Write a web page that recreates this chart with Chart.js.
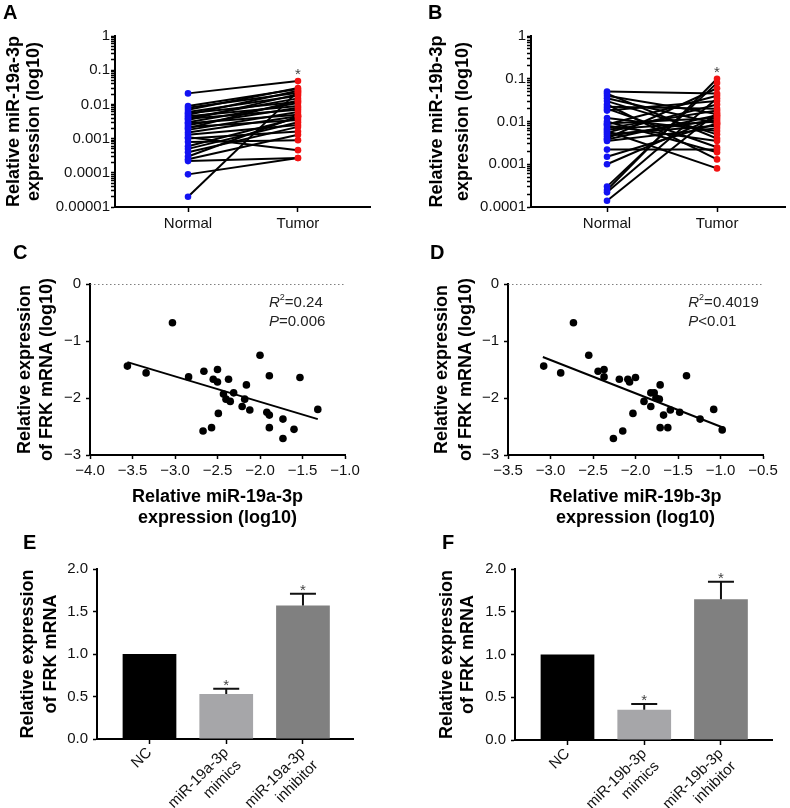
<!DOCTYPE html>
<html>
<head>
<meta charset="utf-8">
<script src="https://cdn.jsdelivr.net/npm/chart.js@4"></script>
<style>
  body { margin: 0; background: #fff; width: 790px; height: 808px; position: relative; overflow: hidden; font-family: 'Liberation Sans', Arial, sans-serif; }
  canvas { position: absolute; }
  .lbl { position: absolute; font-weight: bold; font-size: 20px; line-height: 1; color: #000; }
</style>
</head>
<body>
<canvas id="chartA" width="395" height="240" style="left:0;top:0"></canvas>
<canvas id="chartB" width="395" height="240" style="left:395px;top:0"></canvas>
<canvas id="chartC" width="395" height="300" style="left:0;top:240px"></canvas>
<canvas id="chartD" width="395" height="300" style="left:395px;top:240px"></canvas>
<canvas id="chartE" width="395" height="288" style="left:0;top:520px"></canvas>
<canvas id="chartF" width="395" height="288" style="left:395px;top:520px"></canvas>
<div class="lbl" style="left:3px;top:2px">A</div>
<div class="lbl" style="left:428px;top:2px">B</div>
<div class="lbl" style="left:13px;top:242px">C</div>
<div class="lbl" style="left:430px;top:242px">D</div>
<div class="lbl" style="left:23px;top:532px">E</div>
<div class="lbl" style="left:442px;top:532px">F</div>
<script>
// ---- data ----
const groups = ['Normal', 'Tumor'];

// A: paired miR-19a-3p expression
const normalA = [0.021, 0.009, 0.008, 0.007, 0.006, 0.0055, 0.005, 0.0045, 0.004, 0.0038,
  0.0035, 0.003, 0.0028, 0.0025, 0.0022, 0.002, 0.0018, 0.0015, 0.0013, 0.0011,
  0.001, 0.0008, 0.0006, 0.0005, 0.0004, 0.0003, 0.00025, 0.00022, 0.00009, 0.00002];
const tumorA = [0.048, 0.028, 0.022, 0.03, 0.018, 0.012, 0.025, 0.009, 0.015, 0.007,
  0.02, 0.011, 0.005, 0.008, 0.0035, 0.013, 0.006, 0.0045, 0.0025, 0.00046,
  0.0016, 0.0009, 0.004, 0.003, 0.0022, 0.0045, 0.0013, 0.00027, 0.00027, 0.024];
const logTicksA = ['0.00001', '0.0001', '0.001', '0.01', '0.1', '1'];

// B: paired miR-19b-3p expression
const normalB = [0.05, 0.045, 0.04, 0.035, 0.03, 0.025, 0.022, 0.02, 0.018, 0.012,
  0.01, 0.009, 0.0085, 0.008, 0.007, 0.0065, 0.006, 0.0055, 0.005, 0.0045,
  0.004, 0.0038, 0.0035, 0.0022, 0.0015, 0.001, 0.0003, 0.00025, 0.00022, 0.00014];
const tumorB = [0.045, 0.004, 0.015, 0.009, 0.005, 0.0013, 0.02, 0.0025, 0.03, 0.006,
  0.0019, 0.012, 0.04, 0.0035, 0.018, 0.01, 0.0008, 0.025, 0.008, 0.011,
  0.06, 0.014, 0.007, 0.0022, 0.009, 0.013, 0.08, 0.1, 0.035, 0.016];
const logTicksB = ['0.0001', '0.001', '0.01', '0.1', '1'];

// C: miR-19a-3p vs FRK
const miR19aX = [-3.56, -3.34, -3.03, -2.84, -2.66, -2.67, -2.57, -2.55, -2.50, -2.50,
  -2.49, -2.37, -2.43, -2.40, -2.35, -2.31, -2.21, -2.18, -2.16, -2.12,
  -2.00, -1.92, -1.89, -1.89, -1.89, -1.73, -1.73, -1.60, -1.53, -1.32];
const frkC = [-1.44, -1.56, -0.68, -1.63, -1.53, -2.58, -2.52, -1.67, -1.50, -1.72,
  -2.27, -1.67, -1.93, -2.02, -2.06, -1.91, -2.15, -2.02, -1.77, -2.21,
  -1.25, -2.25, -1.61, -2.30, -2.52, -2.37, -2.71, -2.55, -1.64, -2.20];
const fitCX = [-3.56, -1.32];
const fitCY = [-1.37, -2.37];
const xTicksC = ['\u22124.0', '\u22123.5', '\u22123.0', '\u22122.5', '\u22122.0', '\u22121.5', '\u22121.0'];
const statsC = ['=0.24', '=0.006'];

// D: miR-19b-3p vs FRK
const miR19bX = [-3.08, -2.88, -2.73, -2.55, -2.44, -2.37, -2.37, -2.19, -2.26, -2.15,
  -2.09, -2.07, -2.00, -2.03, -1.90, -1.82, -1.82, -1.78, -1.76, -1.71,
  -1.72, -1.71, -1.67, -1.62, -1.59, -1.48, -1.40, -1.24, -1.08, -0.98];
const frkD = [-1.44, -1.56, -0.68, -1.25, -1.53, -1.50, -1.63, -1.67, -2.71, -2.58,
  -1.67, -1.72, -1.64, -2.27, -2.06, -1.91, -2.15, -1.91, -2.00, -1.77,
  -2.02, -2.52, -2.30, -2.52, -2.21, -2.25, -1.61, -2.37, -2.20, -2.56];
const fitDX = [-3.09, -0.95];
const fitDY = [-1.28, -2.53];
const xTicksD = ['\u22123.5', '\u22123.0', '\u22122.5', '\u22122.0', '\u22121.5', '\u22121.0', '\u22120.5'];
const statsD = ['=0.4019', '<0.01'];

const yTicksCD = ['\u22123', '\u22122', '\u22121', '0'];

// E / F: FRK mRNA after transfection
const catE = [['NC'], ['miR-19a-3p', 'mimics'], ['miR-19a-3p', 'inhibitor']];
const meanE = [1.0, 0.53, 1.57];
const errE = [0, 0.06, 0.14];
const catF = [['NC'], ['miR-19b-3p', 'mimics'], ['miR-19b-3p', 'inhibitor']];
const meanF = [1.0, 0.355, 1.645];
const errF = [0, 0.065, 0.205];
const sigBars = [false, true, true];
const yTicksEF = ['0.0', '0.5', '1.0', '1.5', '2.0'];

// ---- shared setup ----
const FONT = "'Liberation Sans', Arial, sans-serif";
Chart.defaults.font.family = FONT;
Chart.defaults.color = '#111';
Chart.defaults.animation = false;
Chart.defaults.plugins.legend.display = false;
Chart.defaults.plugins.tooltip.enabled = false;

const tickFont = { size: 15 };
const border = { display: true, color: '#000', width: 2 };
function grid(len) {
  return { drawOnChartArea: false, drawTicks: true, tickLength: len, color: '#000', tickWidth: 1.5, offset: false };
}
function yTitle(lines, lh, pad) {
  return { display: true, text: lines, color: '#000', font: { size: 18, weight: 'bold', lineHeight: lh }, padding: { top: pad, bottom: 0 } };
}

function logTickValues(minExp, maxExp) {
  const vals = [];
  for (let e = minExp; e < maxExp; e++) {
    for (let s = 1; s <= 9; s++) vals.push({ value: Number((s * Math.pow(10, e)).toPrecision(3)) });
  }
  vals.push({ value: Math.pow(10, maxExp) });
  return vals;
}
function logLabel(v, labels, minExp) {
  const e = Math.log10(v);
  const r = Math.round(e);
  return Math.abs(e - r) < 1e-6 ? labels[r - minExp] : '';
}

// asterisk above a group
const starPlugin = {
  id: 'star',
  afterDatasetsDraw(chart, args, opts) {
    if (opts.value === undefined) return;
    const { ctx, scales: { x, y } } = chart;
    ctx.save();
    ctx.fillStyle = '#444';
    ctx.font = '15px ' + FONT;
    ctx.textAlign = 'center';
    ctx.textBaseline = 'alphabetic';
    ctx.fillText('*', x.getPixelForValue(opts.x), y.getPixelForValue(opts.value) - 2);
    ctx.restore();
  }
};

// R2 / P annotation
const statsPlugin = {
  id: 'stats',
  afterDraw(chart, args, opts) {
    if (!opts.lines) return;
    const { ctx, scales: { x, y } } = chart;
    const x0 = x.getPixelForValue(opts.x);
    const y0 = y.getPixelForValue(opts.y);
    const letters = ['R', 'P'];
    ctx.save();
    ctx.fillStyle = '#222';
    ctx.textBaseline = 'middle';
    ctx.textAlign = 'left';
    opts.lines.forEach((t, i) => {
      let cx = x0;
      const cy = y0 + i * 19;
      ctx.font = 'italic 15px ' + FONT;
      ctx.fillText(letters[i], cx, cy);
      cx += ctx.measureText(letters[i]).width;
      if (i === 0) {
        ctx.font = '9px ' + FONT;
        ctx.fillText('2', cx, cy - 5);
        cx += ctx.measureText('2').width;
      }
      ctx.font = '15px ' + FONT;
      ctx.fillText(t, cx, cy);
    });
    ctx.restore();
  }
};

// upper error bars + asterisks on bar panels
const errorBarPlugin = {
  id: 'errorBars',
  afterDatasetsDraw(chart, args, opts) {
    if (!opts.means) return;
    const { ctx, scales: { x, y } } = chart;
    ctx.save();
    opts.means.forEach((m, i) => {
      const px = x.getPixelForValue(i);
      const top = y.getPixelForValue(m + opts.errors[i]);
      if (opts.errors[i] > 0) {
        ctx.strokeStyle = '#111';
        ctx.lineWidth = 2;
        ctx.beginPath();
        ctx.moveTo(px, y.getPixelForValue(m));
        ctx.lineTo(px, top);
        ctx.moveTo(px - 13, top);
        ctx.lineTo(px + 13, top);
        ctx.stroke();
      }
      if (opts.stars[i]) {
        ctx.fillStyle = '#444';
        ctx.font = '15px ' + FONT;
        ctx.textAlign = 'center';
        ctx.textBaseline = 'alphabetic';
        ctx.fillText('*', px, top + 1);
      }
    });
    ctx.restore();
  }
};

// ---- paired log panels (A, B) ----
function pairedChart(id, normal, tumor, labels, minExp, opt) {
  const datasets = normal.map((v, i) => ({
    data: [{ x: 0, y: v }, { x: 1, y: tumor[i] }],
    showLine: true, borderColor: '#000', borderWidth: 2, pointRadius: 0, order: 1
  }));
  datasets.push({ data: normal.map(v => ({ x: 0, y: v })), backgroundColor: '#1212f2', borderWidth: 0, pointRadius: 3.3, order: 0 });
  datasets.push({ data: tumor.map(v => ({ x: 1, y: v })), backgroundColor: '#f21212', borderWidth: 0, pointRadius: 3.3, order: 0 });
  return new Chart(document.getElementById(id), {
    type: 'scatter',
    data: { datasets },
    plugins: [starPlugin],
    options: {
      responsive: false,
      layout: { padding: { left: 0, top: 36, right: opt.padRight, bottom: 0 } },
      plugins: { star: { x: 1, value: Math.max(...tumor) } },
      scales: {
        x: {
          type: 'linear', min: opt.xMin, max: opt.xMax, offset: false,
          afterBuildTicks: s => { s.ticks = groups.map((g, i) => ({ value: i })); },
          afterFit: s => { s.height = 33; },
          ticks: { callback: v => groups[v], font: tickFont, padding: 3, autoSkip: false, maxRotation: 0 },
          grid: grid(5), border
        },
        y: {
          type: 'logarithmic', min: Math.pow(10, minExp), max: 1,
          afterBuildTicks: s => { s.ticks = logTickValues(minExp, 0); },
          afterFit: s => { s.width = opt.axisLeft; },
          ticks: { callback: v => logLabel(v, labels, minExp), font: tickFont, padding: 1, autoSkip: false },
          grid: grid(4), border,
          title: opt.title
        }
      }
    }
  });
}

pairedChart('chartA', normalA, tumorA, logTicksA, -5, {
  xMin: -0.664, xMax: 1.655, padRight: 25, axisLeft: 115,
  title: yTitle(['Relative miR-19a-3p', 'expression (log10)'], 1.13, 3.5)
});
pairedChart('chartB', normalB, tumorB, logTicksB, -4, {
  xMin: -0.691, xMax: 1.618, padRight: 5, axisLeft: 136,
  title: yTitle(['Relative miR-19b-3p', 'expression (log10)'], 1.44, 29)
});

// ---- correlation panels (C, D) ----
function corrChart(id, xs, ys, fitX, fitY, xTicks, stats, opt) {
  return new Chart(document.getElementById(id), {
    type: 'scatter',
    data: {
      datasets: [
        { data: xs.map((v, i) => ({ x: v, y: ys[i] })), backgroundColor: '#000', borderWidth: 0, pointRadius: 3.8, order: 0 },
        { data: fitX.map((v, i) => ({ x: v, y: fitY[i] })), showLine: true, borderColor: '#000', borderWidth: 2, pointRadius: 0, order: 1 },
        { data: [{ x: opt.xMin, y: 0 }, { x: opt.xMax, y: 0 }], showLine: true, borderColor: '#555', borderWidth: 1.5, borderDash: [1.5, 2.5], pointRadius: 0, order: 2 }
      ]
    },
    plugins: [statsPlugin],
    options: {
      responsive: false,
      layout: { padding: { left: 0, top: 44, right: opt.padRight, bottom: 0 } },
      plugins: { stats: { x: opt.statX, y: -0.33, lines: stats } },
      scales: {
        x: {
          type: 'linear', min: opt.xMin, max: opt.xMax,
          afterFit: s => { s.height = 85; },
          ticks: { stepSize: 0.5, callback: (v, i) => xTicks[i], font: tickFont, padding: 3, maxRotation: 0, autoSkip: false },
          grid: grid(4), border,
          title: { display: true, text: opt.xTitle, color: '#000', font: { size: 18, weight: 'bold', lineHeight: 1.17 }, padding: { top: 0, bottom: 11.5 } }
        },
        y: {
          type: 'linear', min: -3, max: 0,
          afterFit: s => { s.width = opt.axisLeft; },
          ticks: { stepSize: 1, callback: (v, i) => yTicksCD[i], font: tickFont, padding: 5 },
          grid: grid(4), border,
          title: yTitle(['Relative expression', 'of FRK mRNA (log10)'], opt.lh, opt.pad)
        }
      }
    }
  });
}

corrChart('chartC', miR19aX, frkC, fitCX, fitCY, xTicksC, statsC, {
  xMin: -4, xMax: -1, padRight: 50, axisLeft: 90, lh: 1.22, pad: 14, statX: -1.894,
  xTitle: ['Relative miR-19a-3p', 'expression (log10)']
});
corrChart('chartD', miR19bX, frkD, fitDX, fitDY, xTicksD, statsD, {
  xMin: -3.5, xMax: -0.5, padRight: 27, axisLeft: 113, lh: 1.33, pad: 34.7, statX: -1.379,
  xTitle: ['Relative miR-19b-3p', 'expression (log10)']
});

// ---- bar panels (E, F) ----
function barChart(id, cats, means, errs, opt) {
  return new Chart(document.getElementById(id), {
    type: 'bar',
    data: {
      datasets: [{
        data: means.map((v, i) => ({ x: i, y: v })),
        backgroundColor: ['#000000', '#a6a6a9', '#808080'],
        borderWidth: 0, barPercentage: 0.7, categoryPercentage: 1
      }]
    },
    plugins: [errorBarPlugin],
    options: {
      responsive: false,
      layout: { padding: { left: 0, top: 49, right: opt.padRight, bottom: 0 } },
      plugins: { errorBars: { means, errors: errs, stars: sigBars } },
      scales: {
        x: {
          type: 'linear', min: -0.684, max: opt.xMax, offset: false,
          afterBuildTicks: s => { s.ticks = cats.map((c, i) => ({ value: i })); },
          afterFit: s => { s.height = opt.xHeight; },
          ticks: { callback: v => cats[v], font: tickFont, padding: 0, autoSkip: false, minRotation: 45, maxRotation: 45 },
          grid: grid(5), border
        },
        y: {
          type: 'linear', min: 0, max: 2,
          afterFit: s => { s.width = opt.axisLeft; },
          ticks: { stepSize: 0.5, callback: (v, i) => yTicksEF[i], font: tickFont, padding: 5 },
          grid: grid(4), border,
          title: yTitle(['Relative expression', 'of FRK mRNA'], opt.lh, opt.pad)
        }
      }
    }
  });
}

barChart('chartE', catE, meanE, errE, { padRight: 42, axisLeft: 97, xMax: 2.652, xHeight: 69, lh: 1.28, pad: 16.5 });
barChart('chartF', catF, meanF, errF, { padRight: 18, axisLeft: 120, xMax: 2.665, xHeight: 68, lh: 1.17, pad: 41.5 });
</script>
</body>
</html>
